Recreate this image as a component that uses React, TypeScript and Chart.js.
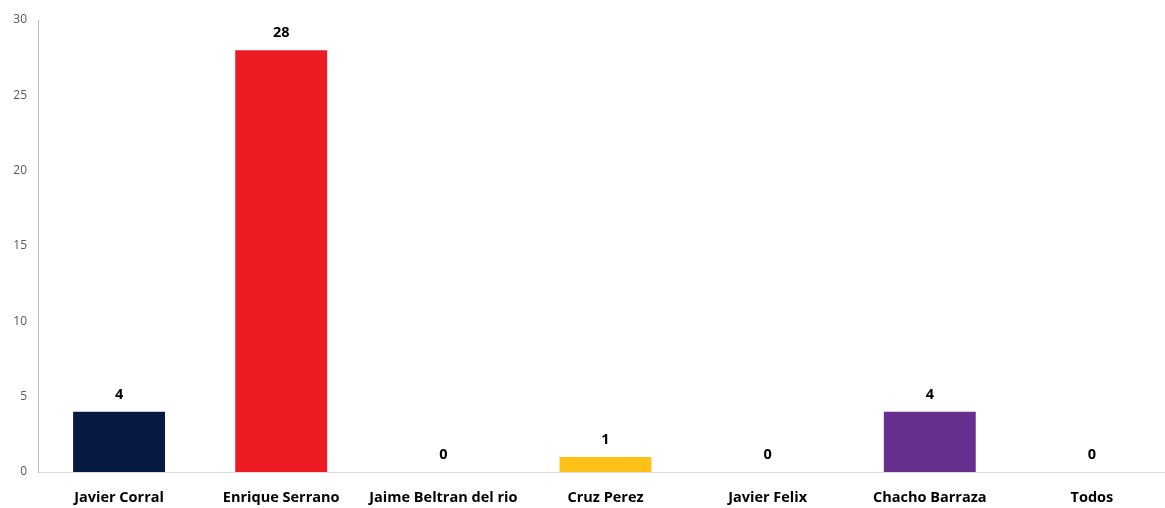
import React, { useEffect, useRef } from "react";
import { Chart, registerables } from "chart.js";

Chart.register(...registerables);

const categories = [
  "Javier Corral",
  "Enrique Serrano",
  "Jaime Beltran del rio",
  "Cruz Perez",
  "Javier Felix",
  "Chacho Barraza",
  "Todos",
];
const values = [4, 28, 0, 1, 0, 4, 0];
const barColors = ["#061a43", "#ed1c24", "#a5a5a5", "#ffc117", "#4472c4", "#67308f", "#70ad47"];
const yTicks = [0, 5, 10, 15, 20, 25, 30];

const FONT = "'Open Sans', Lato, sans-serif";

const valueLabels = {
  id: "valueLabels",
  afterDatasetsDraw(chart: any) {
    const ctx = chart.ctx;
    const meta = chart.getDatasetMeta(0);
    ctx.save();
    ctx.font = `bold 14.5px ${FONT}`;
    ctx.fillStyle = "#000000";
    ctx.textAlign = "center";
    ctx.textBaseline = "middle";
    meta.data.forEach((bar: any, i: number) => {
      ctx.fillText(String(values[i]), bar.x, bar.y - 17);
    });
    ctx.restore();
  },
};

export default function App() {
  const ref = useRef<HTMLCanvasElement | null>(null);
  useEffect(() => {
    if (!ref.current) return;
    const chart = new Chart(ref.current, {
      type: "bar",
      data: {
        labels: categories,
        datasets: [
          {
            data: values,
            backgroundColor: barColors,
            categoryPercentage: 1,
            barPercentage: 0.567,
          },
        ],
      },
      options: {
        animation: false,
        responsive: true,
        maintainAspectRatio: false,
        layout: { padding: { top: 20, left: 0, right: 0, bottom: 0 } },
        plugins: { legend: { display: false }, tooltip: { enabled: false } },
        scales: {
          x: {
            grid: { display: false, drawTicks: false },
            border: { display: true, color: "#d9d9d9", width: 1 },
            ticks: {
              color: "#000000",
              font: { family: FONT, size: 14.5, weight: "bold" },
              padding: 17,
              maxRotation: 0,
              autoSkip: false,
            },
            afterFit: (s: any) => {
              s.height = 36;
            },
          },
          y: {
            min: 0,
            max: 30,
            grid: { display: false, drawTicks: false },
            border: { display: true, color: "#bfbfbf", width: 1 },
            afterBuildTicks: (s: any) => {
              s.ticks = yTicks.map((v) => ({ value: v }));
            },
            ticks: {
              color: "#595959",
              font: { family: FONT, size: 12 },
              padding: 11,
            },
            afterFit: (s: any) => {
              s.width = 38;
            },
          },
        },
      },
      plugins: [valueLabels],
    });
    return () => chart.destroy();
  }, []);
  return (
    <div style={{ position: "fixed", left: 0, top: 0, width: 1165, height: 508, overflow: "hidden", background: "#ffffff" }}>
      <div style={{ position: "absolute", left: 0, top: 0, width: 1173, height: 508 }}>
        <canvas ref={ref} />
      </div>
    </div>
  );
}
